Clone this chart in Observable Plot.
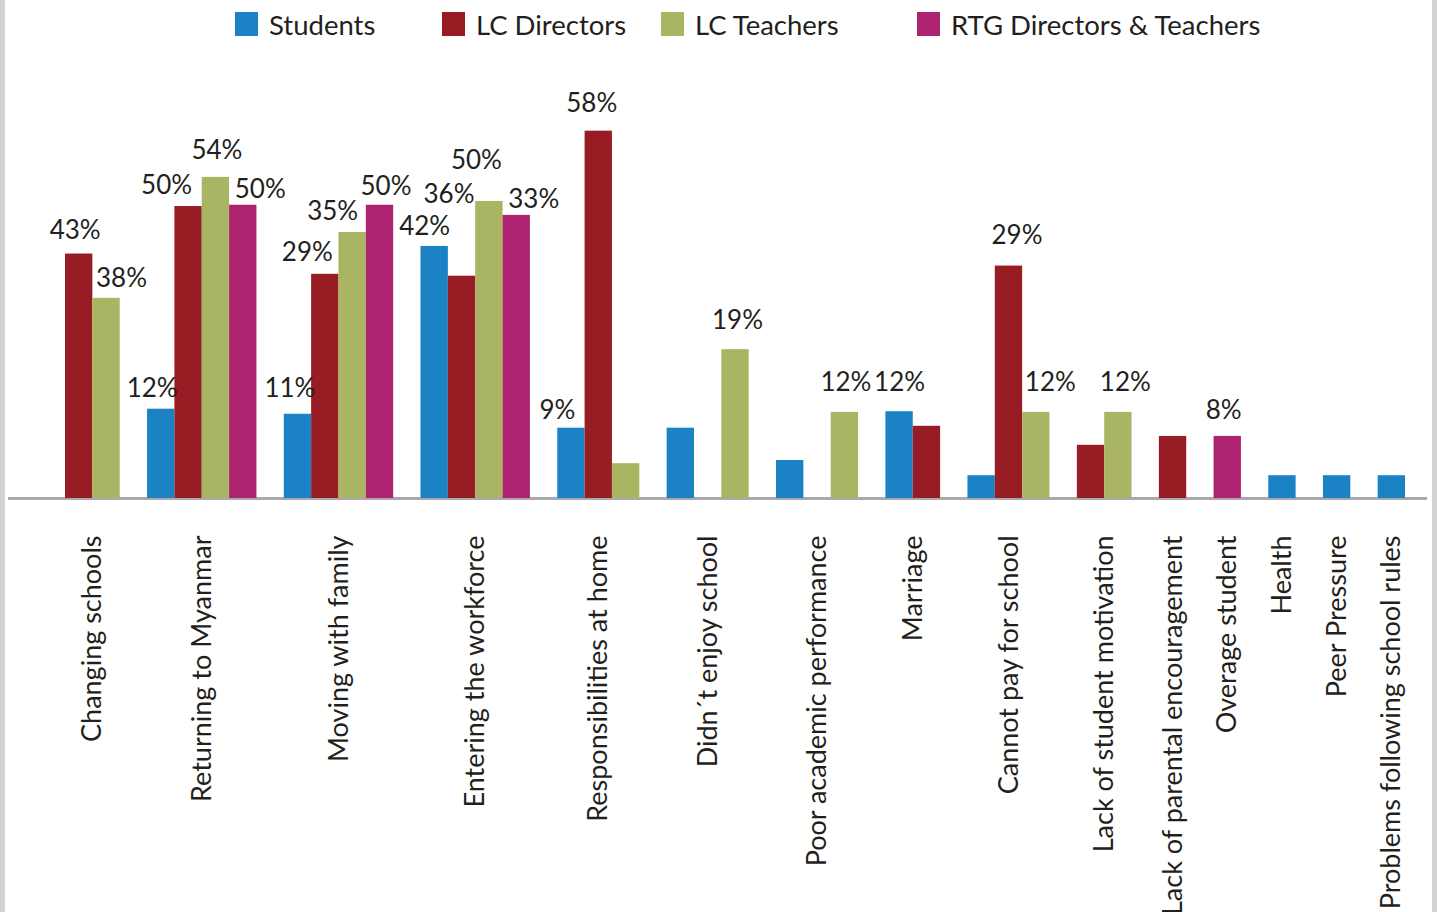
<!DOCTYPE html>
<html><head><meta charset="utf-8">
<script src="https://cdn.jsdelivr.net/npm/d3@7"></script>
<script src="https://cdn.jsdelivr.net/npm/@observablehq/plot@0.6"></script>
<style>
html,body{margin:0;padding:0;background:#fff;}
#frame{position:relative;width:1427px;height:912px;border-left:5px solid #d2d2d5;border-right:5px solid #d2d2d5;overflow:hidden;font-family:Lato,"Open Sans",sans-serif;}
#legend{position:relative;height:50px;}
.item{position:absolute;top:-1px;height:50px;display:flex;align-items:center;font-size:27.5px;color:#231f20;white-space:nowrap;}
.sw{width:23px;height:24px;margin-right:11px;}
</style></head>
<body><div id="frame"><div id="legend"></div><div id="chart"></div></div>
<script>
const categories = ["Changing schools","Returning to Myanmar","Moving with family","Entering the workforce","Responsibilities at home","Didn´t enjoy school","Poor academic performance","Marriage","Cannot pay for school","Lack of student motivation","Lack of parental encouragement","Overage student","Health","Peer Pressure","Problems following school rules"];
const series = ["Students","LC Directors","LC Teachers","RTG Directors & Teachers"];
const colors = ["#1c82c6","#981c24","#aab564","#ae2370"];
// bar heights (percent)
const students    = [null, 14.1, 13.3, 39.8, 11.1, 11.1, 6.0, 13.7, 3.6, null, null, null, 3.6, 3.6, 3.6];
const lcDirectors = [38.6, 46.1, 35.4, 35.1, 58.0, null, null, 11.4, 36.7, 8.4, 9.8, null, null, null, null];
const lcTeachers  = [31.6, 50.7, 42.0, 46.9, 5.5, 23.5, 13.6, null, 13.6, 13.6, null, null, null, null, null];
const rtgStaff    = [null, 46.3, 46.3, 44.7, null, null, null, null, null, null, null, 9.8, null, null, null];
// data labels as printed
const studentLabels  = [null,"12%","11%","42%","9%",null,null,"12%",null,null,null,null,null,null,null];
const directorLabels = ["43%","50%","29%","36%","58%",null,null,null,"29%",null,null,null,null,null,null];
const teacherLabels  = ["38%","54%","35%","50%",null,"19%","12%",null,"12%","12%",null,null,null,null,null];
const rtgLabels      = [null,"50%","50%","33%",null,null,null,null,null,null,null,"8%",null,null,null];

// styling: label offsets in pixels (category index, series index) -> [dx, dy]
const labelNudge = {
  "0,1":[-4,-23], "0,2":[15,-20],
  "1,0":[-9,-21], "1,1":[-22,-21], "1,2":[1,-27], "1,3":[17,-16],
  "2,0":[-8,-26], "2,1":[-18,-22], "2,2":[-20,-21], "2,3":[6,-19],
  "3,0":[-10,-20], "3,1":[-13,-82], "3,2":[-13,-41], "3,3":[17,-16],
  "4,0":[-14,-18], "4,1":[-7,-27],
  "5,2":[2,-29], "6,2":[1,-30], "7,0":[0,-29], "8,1":[8,-30], "8,2":[14,-30], "9,2":[7,-30], "11,3":[-4,-26]
};

const seriesValues = [students, lcDirectors, lcTeachers, rtgStaff];
const seriesLabels = [studentLabels, directorLabels, teacherLabels, rtgLabels];

// clustered layout: a missing series between two present ones keeps its slot; one empty slot between categories
const bars = [], groups = [];
let slot = 0;
categories.forEach((c, i) => {
  const present = seriesValues.map((v, s) => v[i] != null ? s : -1).filter(s => s >= 0);
  const first = present[0], last = present[present.length - 1];
  const start = slot;
  for (let s = first; s <= last; s++) {
    const v = seriesValues[s][i];
    if (v != null) {
      const nudge = labelNudge[i + "," + s] || [0, -22];
      bars.push({category: c, series: series[s], value: v, label: seriesLabels[s][i], slot, dx: nudge[0], dy: nudge[1]});
    }
    slot++;
  }
  groups.push({category: c, center: (start + slot) / 2});
  slot++;
});
const nSlots = slot - 1;

// legend
const legendLeft = [230, 437, 656, 912];
const legend = document.getElementById("legend");
series.forEach((s, i) => {
  const it = document.createElement("div");
  it.className = "item";
  it.style.left = legendLeft[i] + "px";
  it.innerHTML = `<span class="sw" style="background:${colors[i]}"></span><span>${s.replace("&","&amp;")}</span>`;
  legend.appendChild(it);
});

const labelMarks = bars.filter(d => d.label).map(d =>
  Plot.text([d], {x: d => d.slot + 0.5, y: "value", text: "label", dx: d.dx, dy: d.dy, fontSize: 26, fill: "#231f20"})
);

const chart = Plot.plot({
  width: 1427,
  height: 862,
  marginLeft: 60,
  marginRight: 27,
  marginTop: 68,
  marginBottom: 414,
  style: {fontFamily: "Lato, 'Open Sans', sans-serif", background: "#fff", overflow: "visible"},
  x: {type: "linear", domain: [0, nSlots], axis: null},
  y: {domain: [0, 60], axis: null},
  color: {domain: series, range: colors},
  marks: [
    Plot.ruleY([0], {stroke: "#a9a9ad", strokeWidth: 3, insetLeft: -57, insetRight: -22}),
    Plot.rectY(bars, {x1: "slot", x2: d => d.slot + 1, y: "value", fill: "series"}),
    ...labelMarks,
    Plot.text(groups, {x: "center", y: () => 0, text: "category", rotate: -90, textAnchor: "end", dy: 37, fontSize: 27, fill: "#231f20"})
  ]
});
document.getElementById("chart").appendChild(chart);
</script>
</body></html>
